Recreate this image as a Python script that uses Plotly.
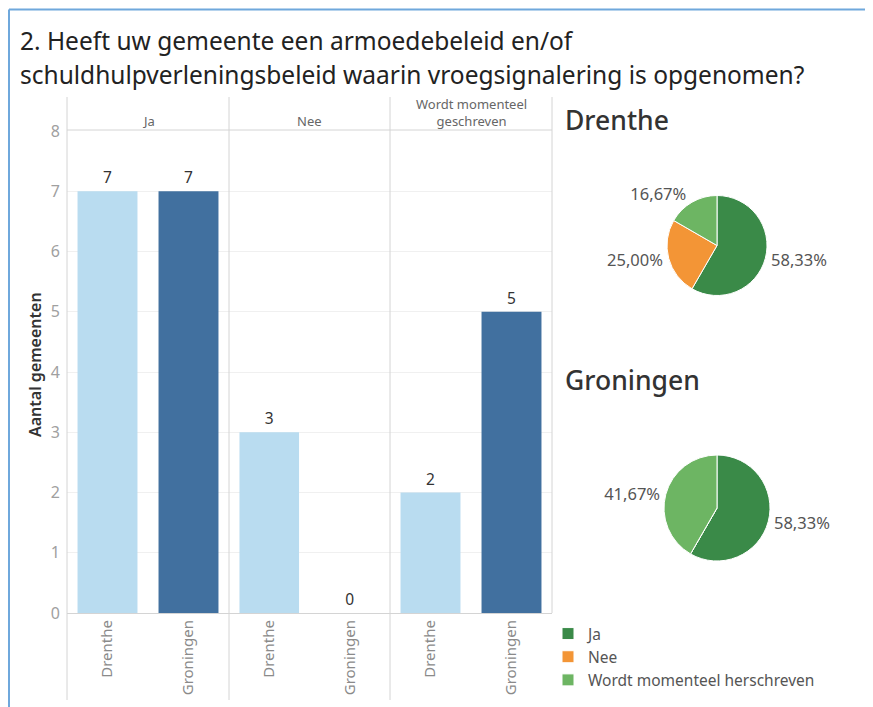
"""Vraag 2 — armoedebeleid / schuldhulpverleningsbeleid met vroegsignalering."""

import plotly.graph_objects as go

# de pagina heeft 8px body-marge; figuur daarom iets kleiner en verschoven
OFF = 8
W, H = 873 - OFF, 707 - OFF

antwoorden = ["Ja", "Nee", "Wordt momenteel geschreven"]
legenda_labels = ["Ja", "Nee", "Wordt momenteel herschreven"]
provincies = ["Drenthe", "Groningen"]
drenthe = [7, 3, 2]
groningen = [7, 0, 5]

KLEUR_DRENTHE = "#b9dcf0"
KLEUR_GRONINGEN = "#41709f"
PIE_KLEUREN = ["#3a8a48", "#f39536", "#6db563"]
FONT = "Noto Sans"


def px_x(x):
    return (x - OFF) / W


def px_y(y):
    return 1 - (y - OFF) / H


def pct_text(values):
    total = sum(values)
    return [f"{v / total * 100:.2f}%".replace(".", ",") if v else "" for v in values]


fig = go.Figure()

# panelen met staafdiagrammen
panels = [(67, 229), (229, 390), (390, 552)]
for i, (antwoord, (x0, x1)) in enumerate(zip(antwoorden, panels)):
    ax = "x" if i == 0 else f"x{i + 1}"
    fig.add_trace(go.Bar(
        x=provincies,
        y=[drenthe[i], groningen[i]],
        marker=dict(color=[KLEUR_DRENTHE, KLEUR_GRONINGEN], line=dict(width=0)),
        text=[drenthe[i], groningen[i]],
        textposition="outside",
        textfont=dict(size=15.5, color="#333333"),
        cliponaxis=False,
        showlegend=False,
        xaxis=ax,
        yaxis="y",
    ))
    key = "xaxis" if i == 0 else f"xaxis{i + 1}"
    fig.layout[key] = dict(
        domain=[px_x(x0), px_x(x1)],
        anchor="y",
        showgrid=False,
        showline=True,
        linecolor="#d4d4d4",
        linewidth=1,
        zeroline=False,
        ticks="",
        tickangle=-90,
        tickfont=dict(size=15, color="#8a8a8a"),
        fixedrange=True,
    )
    fig.add_annotation(
        text=antwoord.replace("momenteel ", "momenteel<br>"),
        x=px_x((x0 + x1) / 2), y=px_y(132),
        xref="paper", yref="paper", xanchor="center", yanchor="bottom",
        showarrow=False, font=dict(size=13, color="#666666"),
    )

# taartdiagrammen
pies = [
    ("Drenthe", drenthe, (667, 767, 195, 296), 120),
    ("Groningen", groningen, (664, 770, 455, 561), 380),
]
for j, (naam, vals, (x0, x1, y0, y1), ty) in enumerate(pies):
    fig.add_trace(go.Pie(
        labels=legenda_labels,
        values=vals,
        text=pct_text(vals),
        textinfo="text",
        textposition="outside",
        textfont=dict(size=16.5, color="#555555"),
        marker=dict(colors=PIE_KLEUREN, line=dict(color="white", width=1)),
        sort=False,
        direction="clockwise",
        rotation=0,
        domain=dict(x=[px_x(x0), px_x(x1)], y=[px_y(y1), px_y(y0)]),
        showlegend=(j == 0),
        hoverinfo="label+percent",
    ))
    fig.add_annotation(
        text=naam, x=px_x(563), y=px_y(ty),
        xref="paper", yref="paper", xanchor="left", yanchor="middle",
        showarrow=False, font=dict(size=26.5, color="#333333", weight=500),
    )

fig.add_annotation(
    text="Aantal gemeenten", x=px_x(35), y=px_y(365),
    xref="paper", yref="paper", xanchor="center", yanchor="middle",
    textangle=-90, showarrow=False,
    font=dict(size=16, color="#333333", weight=600),
)

# titel in twee regels
titel = ["2. Heeft uw gemeente een armoedebeleid en/of",
         "schuldhulpverleningsbeleid waarin vroegsignalering is opgenomen?"]
for regel, ty in zip(titel, (40, 75)):
    fig.add_annotation(
        text=regel, x=px_x(18), y=px_y(ty),
        xref="paper", yref="paper", xanchor="left", yanchor="middle",
        showarrow=False, font=dict(size=24.5, color="#222222"),
    )

# lijnen: panelscheidingen, kopregel en blauwe rand
shapes = []
for x in (67, 229, 390):
    shapes.append(dict(type="line", xref="paper", yref="paper",
                       x0=px_x(x), x1=px_x(x), y0=px_y(97), y1=px_y(700),
                       line=dict(color="#d4d4d4", width=1)))
shapes.append(dict(type="line", xref="paper", yref="paper",
                   x0=px_x(552), x1=px_x(552), y0=px_y(97), y1=px_y(613),
                   line=dict(color="#d4d4d4", width=1)))
shapes.append(dict(type="line", xref="paper", yref="paper",
                   x0=px_x(67), x1=px_x(552), y0=px_y(130), y1=px_y(130),
                   line=dict(color="#d4d4d4", width=1)))
shapes.append(dict(type="line", xref="paper", yref="paper",
                   x0=px_x(9), x1=1, y0=px_y(9.5), y1=px_y(9.5),
                   line=dict(color="#6fa8dc", width=2)))
shapes.append(dict(type="line", xref="paper", yref="paper",
                   x0=px_x(9), x1=px_x(9), y0=px_y(9.5), y1=0,
                   line=dict(color="#6fa8dc", width=2)))

fig.update_layout(
    width=W,
    height=H,
    paper_bgcolor="white",
    plot_bgcolor="white",
    font=dict(family=FONT, color="#333333"),
    separators=",.",
    margin=dict(l=0, r=0, t=0, b=0, pad=0, autoexpand=False),
    yaxis=dict(
        domain=[px_y(613), px_y(131)],
        range=[0, 8],
        dtick=1,
        showgrid=True,
        gridcolor="#f0f0f0",
        zeroline=False,
        showline=False,
        ticklabelstandoff=6,
        tickfont=dict(size=16, color="#a0a0a0"),
        fixedrange=True,
    ),
    bargap=0.26,
    legend=dict(
        x=px_x(548), y=px_y(617), xanchor="left", yanchor="top",
        font=dict(size=15.5, color="#555555"),
        traceorder="normal",
    ),
    shapes=shapes,
)

fig.write_html("out.html")
